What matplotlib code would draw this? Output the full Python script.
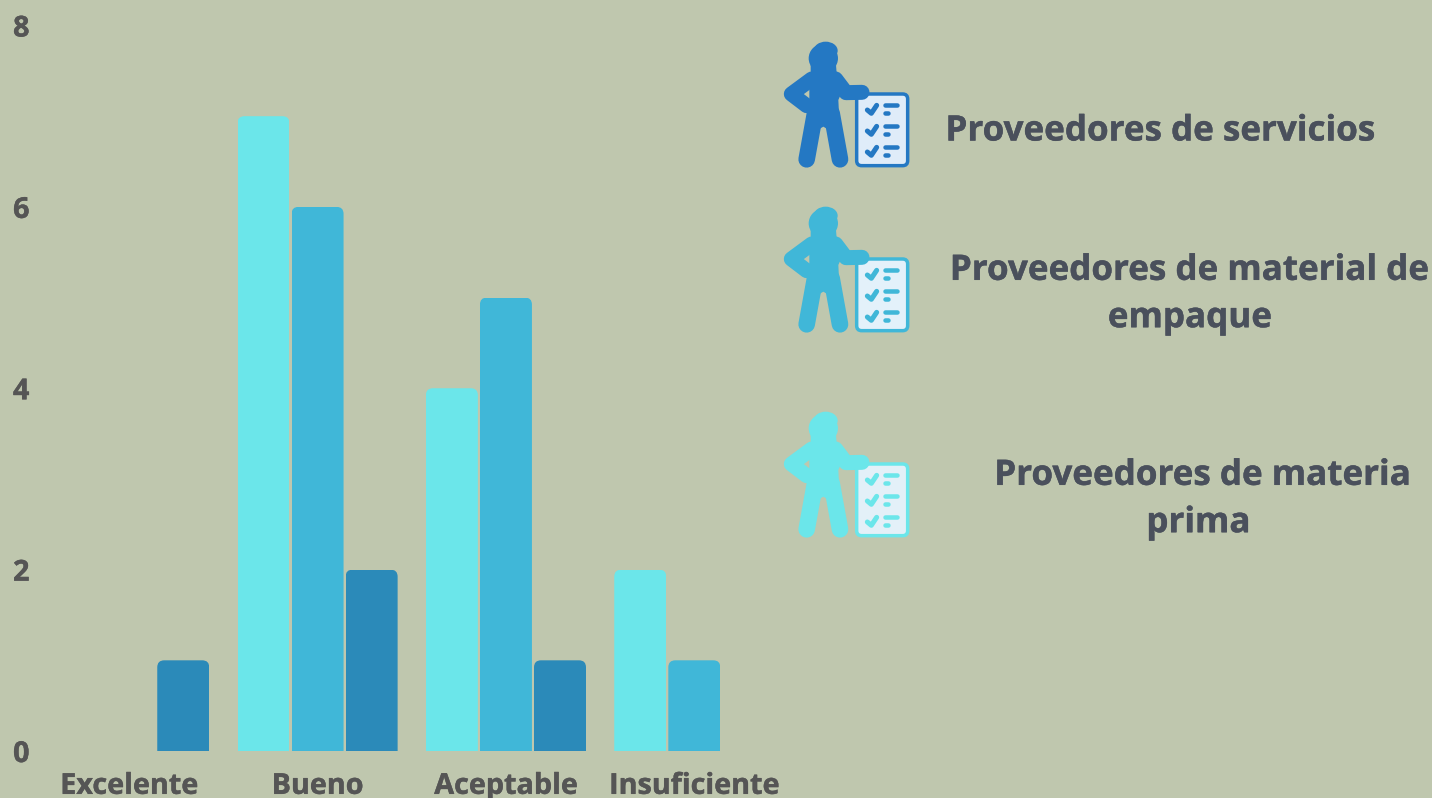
import matplotlib
matplotlib.use("Agg")
import matplotlib.pyplot as plt
import matplotlib.patheffects as pe
from matplotlib.patches import PathPatch, FancyBboxPatch, Polygon, Ellipse
from matplotlib.path import Path

categories = ["Excelente", "Bueno", "Aceptable", "Insuficiente"]
materia_prima = [0, 7, 4, 2]
material_empaque = [0, 6, 5, 1]
servicios = [1, 2, 1, 0]
series = [materia_prima, material_empaque, servicios]
y_ticks = [0, 2, 4, 6, 8]
legend_labels = ["Proveedores de servicios", "Proveedores de material de\nempaque", "Proveedores de materia\nprima "]

BG = "#BFC7AE"
bar_colors = ["#6BE6EA", "#40B7D8", "#2B8AB9"]
icon_colors = ["#2478C3", "#40B7D8", "#6BE6EA"]
icon_fill = ["#DFECF9", "#E3F1FA", "#E3F0F8"]
plt.rcParams["font.family"] = ["Open Sans", "DejaVu Sans"]

W, H = 1432, 798
fig = plt.figure(figsize=(W / 100, H / 100), dpi=100, facecolor=BG)
L, R, T, B = 35, 788.5, 25.5, 751
ax = fig.add_axes([L / W, 1 - B / H, (R - L) / W, (B - T) / H], facecolor="none")
ax.set_xlim(-0.5, 3.5)
ax.set_ylim(0, 8)

width, step = 0.276, 0.287
rx, ry = 7 / 188.4, 7 / 90.7
heavy = [pe.withStroke(linewidth=0.3, foreground="#555555")]
heavy2 = [pe.withStroke(linewidth=0.3, foreground="#4A505C")]


def rounded(x0, x1, h):
    c = Path.CURVE3
    verts = [(x0, 0), (x0, h - ry), (x0, h), (x0 + rx, h), (x1 - rx, h), (x1, h), (x1, h - ry), (x1, 0), (x0, 0)]
    codes = [Path.MOVETO, Path.LINETO, c, c, Path.LINETO, c, c, Path.LINETO, Path.CLOSEPOLY]
    return Path(verts, codes)


for k, vals in enumerate(series):
    xs = [i + (k - 1) * step for i in range(len(categories))]
    bars = ax.bar(xs, vals, width=width, color=bar_colors[k], linewidth=0)
    for b in bars:
        if b.get_height() > 0:
            clip = PathPatch(rounded(b.get_x(), b.get_x() + b.get_width(), b.get_height()), transform=ax.transData)
            b.set_clip_path(clip)

for s in ax.spines.values():
    s.set_visible(False)
ax.set_xticks(range(len(categories)), categories)
ax.set_yticks(y_ticks)
ax.tick_params(length=0, labelsize=20.7, labelcolor="#555555")
ax.tick_params(axis="x", pad=15)
ax.tick_params(axis="y", pad=4)
for t in ax.get_xticklabels() + ax.get_yticklabels():
    t.set_fontweight("bold")
    t.set_path_effects(heavy)

ov = fig.add_axes([0, 0, 1, 1], facecolor="none")
ov.set_xlim(0, W)
ov.set_ylim(H, 0)
ov.axis("off")


def z(px, py, dy):
    return (770 + px / 3, 30 + dy + py / 3)


def thick(pts, col, lw_px, dy):
    xs, ys = zip(*[z(p[0], p[1], dy) for p in pts])
    ov.plot(xs, ys, color=col, lw=lw_px * 0.72, solid_capstyle="round", solid_joinstyle="round")


def icon(dy, col, fill):
    x0, y0 = z(260, 192, dy)
    x1, y1 = z(413, 407, dy)
    ov.add_patch(FancyBboxPatch((x0 + 4, y0 + 4), x1 - x0 - 8, y1 - y0 - 8, boxstyle="round,pad=4,rounding_size=5", fc=fill, ec=col, lw=2.5))
    for oy in [0, 63, 126]:
        thick([(292, 240 + oy), (304, 250 + oy), (320, 226 + oy)], col, 5, dy)
        thick([(344, 224 + oy), (380, 224 + oy)], col, 4.5, dy)
        thick([(344, 250 + oy), (355, 250 + oy)], col, 4.5, dy)
    ov.add_patch(Ellipse(z(160, 85, dy), 29.3, 29, color=col, lw=0))
    ov.add_patch(Ellipse(z(167, 62, dy), 24, 18, color=col, lw=0))
    ov.add_patch(Polygon([z(*p, dy) for p in [(122, 105), (198, 105), (200, 130), (122, 130)]], closed=True, color=col, lw=0))
    ov.add_patch(Polygon([z(*p, dy) for p in [(125, 125), (200, 125), (225, 165), (205, 210), (207, 250), (220, 325), (160, 290), (100, 325), (113, 250), (118, 205), (118, 170)]], closed=True, color=col, lw=0))
    thick([(125, 147), (64, 192), (110, 227)], col, 15, dy)
    thick([(197, 147), (228, 188), (276, 187)], col, 15, dy)
    thick([(135, 250), (110, 388)], col, 16.6, dy)
    thick([(185, 250), (210, 388)], col, 16.6, dy)


for dy, col, fill in zip([0, 165, 370], icon_colors, icon_fill):
    icon(dy, col, fill)

text_pos = [(1161, 131.5), (1190, 294.5), (1203, 499.5)]
for (x, y), s in zip(text_pos, legend_labels):
    t = ov.text(x, y, s, ha="center", va="center", fontsize=25.2, fontweight="bold", color="#4A505C", linespacing=1.42)
    t.set_path_effects(heavy2)

fig.savefig("out.png", dpi=100, facecolor=BG)
